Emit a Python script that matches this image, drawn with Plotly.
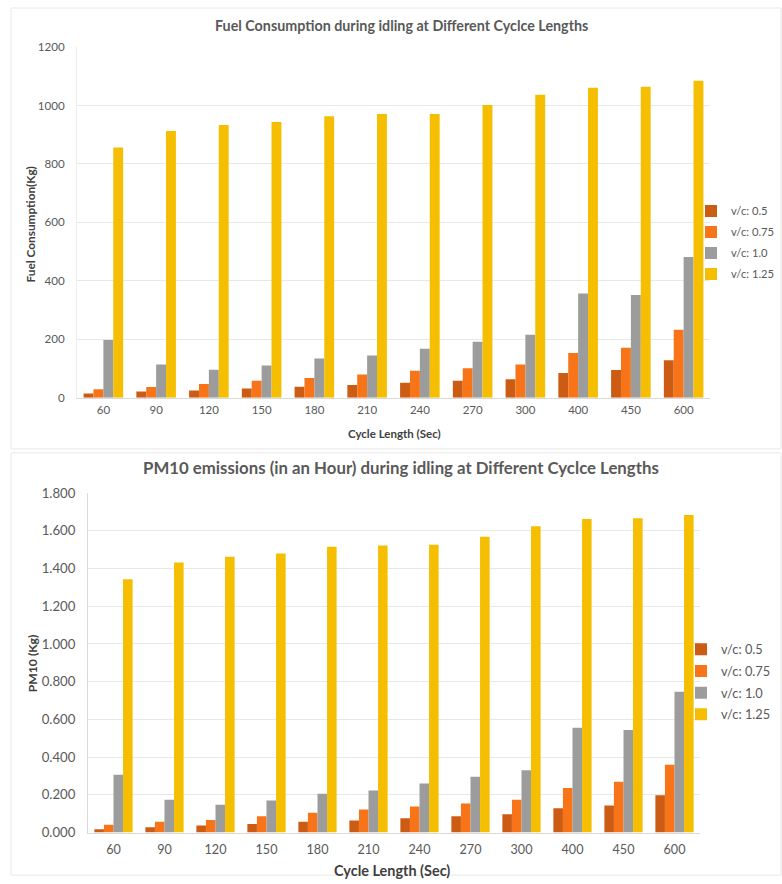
import plotly.graph_objects as go

cycle_lengths = ["60", "90", "120", "150", "180", "210", "240", "270", "300", "400", "450", "600"]
series_names = ["v/c: 0.5", "v/c: 0.75", "v/c: 1.0", "v/c: 1.25"]

fuel_vc_050 = [15, 21, 25, 32, 38, 44, 51, 58, 63, 85, 95, 128]
fuel_vc_075 = [29, 37, 47, 58, 68, 80, 92, 101, 114, 153, 171, 233]
fuel_vc_100 = [198, 114, 96, 110, 134, 145, 168, 192, 216, 357, 352, 482]
fuel_vc_125 = [856, 913, 933, 944, 963, 971, 971, 1002, 1037, 1061, 1064, 1085]

pm10_vc_050 = [0.018, 0.028, 0.037, 0.046, 0.057, 0.064, 0.076, 0.087, 0.097, 0.129, 0.144, 0.198]
pm10_vc_075 = [0.041, 0.057, 0.067, 0.087, 0.105, 0.122, 0.138, 0.154, 0.174, 0.236, 0.269, 0.360]
pm10_vc_100 = [0.307, 0.174, 0.147, 0.170, 0.206, 0.223, 0.260, 0.296, 0.330, 0.555, 0.544, 0.746]
pm10_vc_125 = [1.343, 1.432, 1.462, 1.479, 1.515, 1.522, 1.526, 1.568, 1.623, 1.662, 1.666, 1.683]

fuel_ticks = [0, 200, 400, 600, 800, 1000, 1200]
pm10_ticks = [0, 0.2, 0.4, 0.6, 0.8, 1.0, 1.2, 1.4, 1.6, 1.8]

colors = ["#CC5C14", "#F77419", "#9C9C9C", "#F5BE00"]
FONT = "Lato"
TXT = "#595959"
DARK = "#404040"

W, H = 782, 884
# calibration of the capture (vertical: observed = SY * layout + OY)
SY, OY = 0.98, 8.0
def iy(y): return (y - OY) / SY
def tx(x): return x / W                  # -> paper fraction
def ty(y): return 1 - iy(y) / H

fig = go.Figure()
for i, (name, vals, col) in enumerate(zip(series_names, [fuel_vc_050, fuel_vc_075, fuel_vc_100, fuel_vc_125], colors)):
    fig.add_trace(go.Bar(x=cycle_lengths, y=vals, name=name, marker=dict(color=col, line=dict(width=0)),
                         xaxis="x", yaxis="y", legend="legend", legendgroup="a%d" % i))
for i, (name, vals, col) in enumerate(zip(series_names, [pm10_vc_050, pm10_vc_075, pm10_vc_100, pm10_vc_125], colors)):
    fig.add_trace(go.Bar(x=cycle_lengths, y=vals, name=name, marker=dict(color=col, line=dict(width=0)),
                         xaxis="x2", yaxis="y2", legend="legend2", legendgroup="b%d" % i))

fig.update_layout(
    width=W, height=H, margin=dict(l=0, r=0, t=0, b=0),
    paper_bgcolor="white", plot_bgcolor="white",
    barmode="group", bargap=0.25, bargroupgap=0,
    font=dict(family=FONT, color=TXT),
    xaxis=dict(domain=[tx(77), tx(710)], anchor="y", tickfont=dict(size=11.5, color=TXT),
               type="category", showline=True, linecolor="#d9d9d9", linewidth=1, ticks="",
               zeroline=False, ticklabelstandoff=1),
    yaxis=dict(domain=[ty(397), ty(47)], anchor="x", range=[0, 1200], tickvals=fuel_ticks,
               tickfont=dict(size=11.6, color=TXT), showgrid=True, gridcolor="#e8e8e8",
               showline=True, linecolor="#ececec", ticks="", zeroline=False, ticklabelstandoff=9),
    xaxis2=dict(domain=[tx(88), tx(700)], anchor="y2", tickfont=dict(size=12.6, color=TXT),
                type="category", showline=True, linecolor="#d9d9d9", linewidth=1, ticks="",
                zeroline=False, ticklabelstandoff=5),
    yaxis2=dict(domain=[ty(831), ty(492)], anchor="x2", range=[0, 1.8], tickvals=pm10_ticks,
                tickformat=".3f", tickfont=dict(size=13.2, color=TXT), showgrid=True, gridcolor="#e8e8e8",
                showline=True, linecolor="#d9d9d9", ticks="", zeroline=False, ticklabelstandoff=9),
    legend=dict(x=tx(691), y=1 - (iy(211) - 15.2) / H, xanchor="left", yanchor="top",
                bgcolor="rgba(0,0,0,0)", font=dict(size=11.2, color=TXT), itemwidth=30, tracegroupgap=2),
    legend2=dict(x=tx(681), y=1 - (iy(650) - 17) / H, xanchor="left", yanchor="top",
                 bgcolor="rgba(0,0,0,0)", font=dict(size=12.8, color=TXT), itemwidth=30, tracegroupgap=2),
    showlegend=True,
)

# panel borders (kept inside the canvas)
fig.add_shape(type="rect", xref="paper", yref="paper", x0=tx(11), x1=tx(781), y0=ty(448), y1=ty(8),
              line=dict(color="#e8e8e8", width=1), fillcolor="rgba(0,0,0,0)", layer="below")
fig.add_shape(type="rect", xref="paper", yref="paper", x0=tx(11), x1=tx(781), y0=0.001, y1=ty(452),
              line=dict(color="#e8e8e8", width=1), fillcolor="rgba(0,0,0,0)", layer="below")

annots = [
    dict(text="<b>Fuel Consumption during idling at Different Cyclce Lengths</b>", x=tx(401), y=ty(25),
         font=dict(size=14.3, color=TXT)),
    dict(text="<b>Cycle Length (Sec)</b>", x=tx(394), y=ty(433), font=dict(size=11.5, color=DARK)),
    dict(text="<b>Fuel Consumption(Kg)</b>", x=tx(30), y=ty(224), textangle=-90,
         font=dict(size=11.8, color=DARK)),
    dict(text="<b>PM10 emissions (in an Hour) during idling at Different Cyclce Lengths</b>", x=tx(401),
         y=ty(467), font=dict(size=16.8, color=TXT)),
    dict(text="<b>Cycle Length (Sec)</b>", x=tx(392), y=ty(869), font=dict(size=14.45, color=DARK)),
    dict(text="<b>PM10 (Kg)</b>", x=tx(32), y=ty(662), textangle=-90, font=dict(size=12.2, color=DARK)),
]
for a in annots:
    fig.add_annotation(xref="paper", yref="paper", showarrow=False, xanchor="center", yanchor="middle", **a)

fig.write_html(
    "out.html",
    config={"displayModeBar": False},
    post_script="document.body.style.margin='0';var d=document.getElementById('{plot_id}');"
                "d.style.position='absolute';d.style.left='0px';d.style.top='0px';"
                "d.style.overflow='hidden';d.style.width='782px';d.style.height='884px';"
                "document.documentElement.style.overflow='hidden';",
)
